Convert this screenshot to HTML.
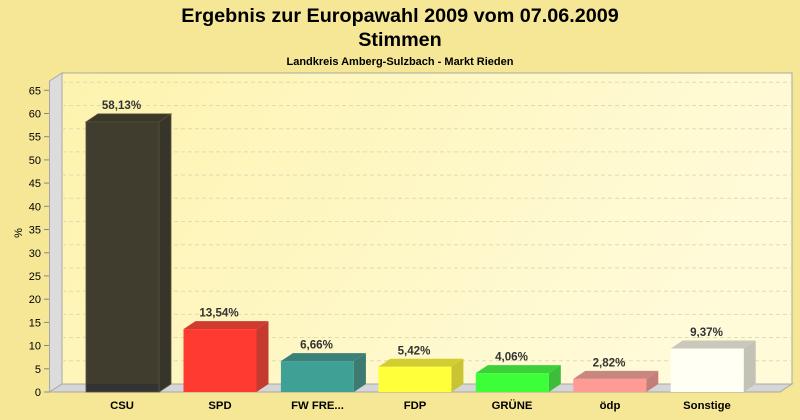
<!DOCTYPE html>
<html><head><meta charset="utf-8"><style>
html,body{margin:0;padding:0;background:#f5e796;}
svg{display:block;}
</style></head><body>
<svg width="800" height="420" viewBox="0 0 800 420" xmlns="http://www.w3.org/2000/svg" font-family="Liberation Sans, Arial, sans-serif">
<defs>
<linearGradient id="wall" x1="0" y1="0" x2="1" y2="0.3">
<stop offset="0" stop-color="#fdf3ae"/>
<stop offset="1" stop-color="#fffbd9"/>
</linearGradient>
</defs>
<rect x="0" y="0" width="800" height="420" fill="#f5e796"/>
<text x="400" y="22" text-anchor="middle" font-size="19.8" font-weight="bold" fill="#000">Ergebnis zur Europawahl 2009 vom 07.06.2009</text>
<text x="400" y="46" text-anchor="middle" font-size="19.8" font-weight="bold" fill="#000">Stimmen</text>
<text x="400" y="65" text-anchor="middle" font-size="11" font-weight="bold" fill="#000">Landkreis Amberg-Sulzbach - Markt Rieden</text>
<!-- back wall -->
<rect x="62" y="73" width="730" height="311" fill="url(#wall)" stroke="#a8a8a0" stroke-width="1"/>
<!-- left wall -->
<polygon points="49.5,81 62,73 62,384 49.5,392" fill="#dcdcdc" stroke="#a8a8a8" stroke-width="1"/>
<!-- floor -->
<polygon points="49.5,392 62,384 792,384 780,392" fill="#d6d6d6" stroke="#a8a8a8" stroke-width="1"/>
<!-- gridlines -->
<g stroke="#e2dab0" stroke-width="1" stroke-dasharray="4,3" fill="none">
<line x1="62" y1="360.8" x2="792" y2="360.8"/>
<line x1="62" y1="337.5" x2="792" y2="337.5"/>
<line x1="62" y1="314.4" x2="792" y2="314.4"/>
<line x1="62" y1="291.2" x2="792" y2="291.2"/>
<line x1="62" y1="267.9" x2="792" y2="267.9"/>
<line x1="62" y1="244.8" x2="792" y2="244.8"/>
<line x1="62" y1="221.5" x2="792" y2="221.5"/>
<line x1="62" y1="198.3" x2="792" y2="198.3"/>
<line x1="62" y1="175.1" x2="792" y2="175.1"/>
<line x1="62" y1="151.9" x2="792" y2="151.9"/>
<line x1="62" y1="128.7" x2="792" y2="128.7"/>
<line x1="62" y1="105.5" x2="792" y2="105.5"/>
<line x1="62" y1="82.3" x2="792" y2="82.3"/>
</g>
<!-- axis ticks -->
<g stroke="#888" stroke-width="1">
<line x1="44" y1="392" x2="49" y2="392"/>
<line x1="44" y1="368.8" x2="49" y2="368.8"/>
<line x1="44" y1="345.5" x2="49" y2="345.5"/>
<line x1="44" y1="322.4" x2="49" y2="322.4"/>
<line x1="44" y1="299.2" x2="49" y2="299.2"/>
<line x1="44" y1="275.9" x2="49" y2="275.9"/>
<line x1="44" y1="252.8" x2="49" y2="252.8"/>
<line x1="44" y1="229.5" x2="49" y2="229.5"/>
<line x1="44" y1="206.3" x2="49" y2="206.3"/>
<line x1="44" y1="183.1" x2="49" y2="183.1"/>
<line x1="44" y1="159.9" x2="49" y2="159.9"/>
<line x1="44" y1="136.7" x2="49" y2="136.7"/>
<line x1="44" y1="113.5" x2="49" y2="113.5"/>
<line x1="44" y1="90.3" x2="49" y2="90.3"/>
</g>
<g font-size="11" fill="#000" text-anchor="end">
<text x="41" y="396">0</text>
<text x="41" y="372.8">5</text>
<text x="41" y="349.5">10</text>
<text x="41" y="326.4">15</text>
<text x="41" y="303.2">20</text>
<text x="41" y="279.9">25</text>
<text x="41" y="256.8">30</text>
<text x="41" y="233.5">35</text>
<text x="41" y="210.3">40</text>
<text x="41" y="187.1">45</text>
<text x="41" y="163.9">50</text>
<text x="41" y="140.7">55</text>
<text x="41" y="117.5">60</text>
<text x="41" y="94.3">65</text>
</g>
<text x="0" y="0" font-size="11" fill="#000" text-anchor="middle" transform="translate(22,233) rotate(-90)">%</text>

<!-- bars -->
<!-- CSU -->
<polygon points="86,121.9 98,113.9 171,113.9 159,121.9" fill="#3b3729" stroke="#55513c" stroke-width="0.8"/>
<polygon points="159,121.9 171,113.9 171,384 159,392" fill="#37342a" stroke="#55513c" stroke-width="0.8"/>
<rect x="86" y="121.9" width="73" height="270.1" fill="#413d2e" stroke="#55513c" stroke-width="0.8"/>
<rect x="86.5" y="384" width="72" height="7.5" fill="#333"/>
<!-- SPD -->
<polygon points="183.5,329.1 195.5,321.1 268.5,321.1 256.5,329.1" fill="#d03a30"/>
<polygon points="256.5,329.1 268.5,321.1 268.5,384 256.5,392" fill="#c43a30"/>
<rect x="183.5" y="329.1" width="73" height="62.9" fill="#ff3a30"/>
<!-- FW -->
<polygon points="280.9,361.1 292.9,353.1 365.9,353.1 353.9,361.1" fill="#3a8278"/>
<polygon points="353.9,361.1 365.9,353.1 365.9,384 353.9,392" fill="#3c7a72"/>
<rect x="280.9" y="361.1" width="73" height="30.9" fill="#3fa096"/>
<!-- FDP -->
<polygon points="378.4,366.8 390.4,358.8 463.4,358.8 451.4,366.8" fill="#d2ce32"/>
<polygon points="451.4,366.8 463.4,358.8 463.4,384 451.4,392" fill="#c8c432"/>
<rect x="378.4" y="366.8" width="73" height="25.2" fill="#ffff3a"/>
<!-- GRUENE -->
<polygon points="475.8,373.1 487.8,365.1 560.8,365.1 548.8,373.1" fill="#3cd03a"/>
<polygon points="548.8,373.1 560.8,365.1 560.8,384 548.8,392" fill="#3cbe3a"/>
<rect x="475.8" y="373.1" width="73" height="18.9" fill="#3cff3a"/>
<!-- oedp -->
<polygon points="573.3,378.9 585.3,370.9 658.3,370.9 646.3,378.9" fill="#c8867e"/>
<polygon points="646.3,378.9 658.3,370.9 658.3,384 646.3,392" fill="#c47e78"/>
<rect x="573.3" y="378.9" width="73" height="13.1" fill="#ff9a94"/>
<!-- Sonstige -->
<polygon points="670.7,348.5 682.7,340.5 755.7,340.5 743.7,348.5" fill="#cac8ba"/>
<polygon points="743.7,348.5 755.7,340.5 755.7,384 743.7,392" fill="#c4c2b4"/>
<rect x="670.7" y="348.5" width="73" height="43.5" fill="#fffff4"/>

<!-- value labels -->
<g font-size="11.6" font-weight="bold" fill="#333" text-anchor="middle">
<text x="121.5" y="109">58,13%</text>
<text x="219" y="316.5">13,54%</text>
<text x="316.5" y="348.5">6,66%</text>
<text x="414" y="354.5">5,42%</text>
<text x="511.5" y="360.5">4,06%</text>
<text x="609" y="366.5">2,82%</text>
<text x="706.5" y="336">9,37%</text>
</g>
<!-- category labels -->
<g font-size="11.3" font-weight="bold" fill="#000" text-anchor="middle">
<text x="122" y="409">CSU</text>
<text x="220" y="409">SPD</text>
<text x="317.5" y="409">FW FRE...</text>
<text x="415" y="409">FDP</text>
<text x="512" y="409">GRÜNE</text>
<text x="610" y="409">ödp</text>
<text x="707" y="409">Sonstige</text>
</g>
</svg>
</body></html>
